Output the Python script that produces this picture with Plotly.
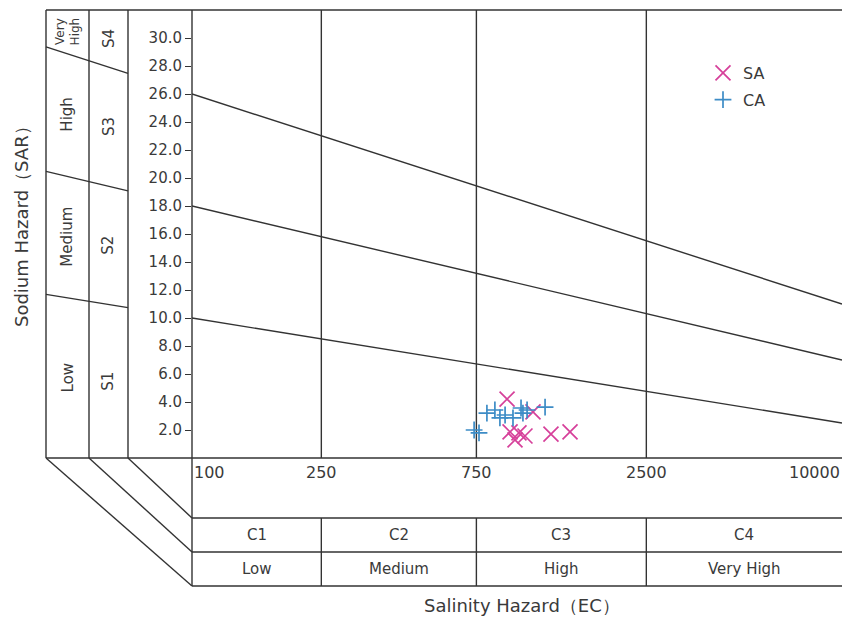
import math
import plotly.graph_objects as go

# ---------------- data ----------------
SA_EC = [932, 1120, 952, 986, 1014, 1058, 1272, 1456]
SA_SAR = [4.21, 3.29, 1.86, 1.29, 1.79, 1.57, 1.71, 1.86]

CA_EC = [738, 764, 808, 855, 886, 919, 972, 1029, 1043, 1074, 1220]
CA_SAR = [2.0, 1.79, 3.21, 3.43, 2.86, 3.07, 2.86, 3.57, 3.21, 3.43, 3.64]

EC_BOUNDS = [100, 250, 750, 2500, 10000]
EC_TICK_LABELS = ["100", "250", "750", "2500", "10000"]

SAR_TICKS = [2, 4, 6, 8, 10, 12, 14, 16, 18, 20, 22, 24, 26, 28, 30]
SAR_TICK_LABELS = ["2.0", "4.0", "6.0", "8.0", "10.0", "12.0", "14.0", "16.0",
                   "18.0", "20.0", "22.0", "24.0", "26.0", "28.0", "30.0"]

SALINITY_CLASSES = ["C1", "C2", "C3", "C4"]
SALINITY_LEVELS = ["Low", "Medium", "High", "Very High"]
SODIUM_CLASSES = ["S1", "S2", "S3", "S4"]
SODIUM_LEVELS = ["Low", "Medium", "High", "Very<br>High"]

# SAR class boundaries: value at EC=100 and at EC=10000
SAR_BOUND_LEFT = [10, 18, 26]
SAR_BOUND_RIGHT = [2.5, 7, 11]

SAR_MAX = 32

# ---------------- layout geometry (page pixels) ----------------
W, H = 842, 617
PL, PR, PT, PB = 192, 842, 10, 458
COL_X = [46, 89, 128]          # left column edges
BAND_Y = [518, 552, 586]       # bottom band rows
LINE_COLOR = "#333333"
LW = 1.4
FONT = "DejaVu Sans"
TXT = "#3a3a3a"
SA_COLOR = "#d6409a"
CA_COLOR = "#3d8cc6"


def xp(px):
    return (px - PL) / (PR - PL)


def yp(py):
    return (PB - py) / (PB - PT)


def lx(v):
    return math.log10(v)


def bound_y_paper(i, xpaper):
    sar = SAR_BOUND_LEFT[i] + (SAR_BOUND_RIGHT[i] - SAR_BOUND_LEFT[i]) * xpaper
    return sar / SAR_MAX


fig = go.Figure()

fig.add_trace(go.Scatter(
    x=SA_EC, y=SA_SAR, mode="markers", name="SA", legendgroup="sa",
    marker=dict(symbol="x-thin", size=15, color=SA_COLOR,
                line=dict(width=1.7, color=SA_COLOR)),
))
fig.add_trace(go.Scatter(
    x=CA_EC, y=CA_SAR, mode="markers", name="CA", legendgroup="ca",
    marker=dict(symbol="cross-thin", size=12, color=CA_COLOR,
                line=dict(width=1.7, color=CA_COLOR)),
))

shapes = []
ln = dict(color=LINE_COLOR, width=LW)


def pline(x0, y0, x1, y1):
    shapes.append(dict(type="line", xref="paper", yref="paper",
                       x0=x0, y0=y0, x1=x1, y1=y1, line=ln, layer="below"))


# top and bottom frame lines
pline(xp(COL_X[0]), 1, 1, 1)
pline(xp(COL_X[0]), 0, 1, 0)
# left column verticals
for cx in COL_X:
    pline(xp(cx), 0, xp(cx), 1)
# axis vertical (extends into bottom bands)
pline(0, 1, 0, yp(BAND_Y[-1]))
# bottom band horizontals
for by in BAND_Y:
    pline(0, yp(by), 1, yp(by))
# diagonals linking columns to bands
for cx, by in zip(COL_X, BAND_Y[::-1]):
    pline(xp(cx), 0, 0, yp(by))

# vertical class boundaries (plot + bands)
for ec in EC_BOUNDS[1:-1]:
    shapes.append(dict(type="line", xref="x", yref="paper", x0=ec, x1=ec,
                       y0=1, y1=0, line=ln, layer="below"))
    shapes.append(dict(type="line", xref="x", yref="paper", x0=ec, x1=ec,
                       y0=yp(BAND_Y[0]), y1=yp(BAND_Y[-1]), line=ln, layer="below"))

# SAR boundary lines in plot and their extension across the left columns
for i in range(len(SAR_BOUND_LEFT)):
    shapes.append(dict(type="line", xref="x", yref="y",
                       x0=EC_BOUNDS[0], y0=SAR_BOUND_LEFT[i],
                       x1=EC_BOUNDS[-1], y1=SAR_BOUND_RIGHT[i],
                       line=ln, layer="below"))
    xa, xb = xp(COL_X[0]), xp(COL_X[-1])
    pline(xa, bound_y_paper(i, xa), xb, bound_y_paper(i, xb))

annotations = []


def ann(text, x, y, size=15, xref="paper", yref="paper", xanchor="center",
        yanchor="middle", angle=0, color=TXT):
    annotations.append(dict(text=text, x=x, y=y, xref=xref, yref=yref,
                            xanchor=xanchor, yanchor=yanchor, textangle=angle,
                            showarrow=False, font=dict(family=FONT, size=size, color=color)))


# x tick labels
for k, (ec, lab) in enumerate(zip(EC_BOUNDS, EC_TICK_LABELS)):
    anchor = "left" if k == 0 else ("right" if k == len(EC_BOUNDS) - 1 else "center")
    ann(lab, lx(ec), yp(472), xref="x", xanchor=anchor, size=16)

# bottom band labels
for k in range(4):
    cx = (lx(EC_BOUNDS[k]) + lx(EC_BOUNDS[k + 1])) / 2
    ann(SALINITY_CLASSES[k], cx, yp((BAND_Y[0] + BAND_Y[1]) / 2), xref="x")
    ann(SALINITY_LEVELS[k], cx, yp((BAND_Y[1] + BAND_Y[2]) / 2), xref="x")

# left column labels
for col, labels in ((0, SODIUM_LEVELS), (1, SODIUM_CLASSES)):
    cxp = xp((COL_X[col] + COL_X[col + 1]) / 2)
    edges = [0] + [bound_y_paper(i, cxp) for i in range(3)] + [1]
    for k, lab in enumerate(labels):
        size = 12 if "<br>" in lab else 15
        ann(lab, cxp, (edges[k] + edges[k + 1]) / 2, size=size, angle=-90)

# axis titles
ann("Salinity Hazard（EC）", xp(522), yp(605), size=18)
ann("Sodium Hazard（SAR）", xp(21), yp(222), size=18, angle=-90)

fig.update_layout(
    width=W, height=H, autosize=False,
    margin=dict(l=PL, r=W - PR, t=PT, b=H - PB, pad=0),
    paper_bgcolor="white", plot_bgcolor="white",
    font=dict(family=FONT, color=TXT),
    xaxis=dict(type="log", range=[lx(EC_BOUNDS[0]), lx(EC_BOUNDS[-1])],
               showgrid=False, zeroline=False, showticklabels=False, ticks="",
               showline=False),
    yaxis=dict(range=[0, SAR_MAX], tickvals=SAR_TICKS, ticktext=SAR_TICK_LABELS,
               ticks="outside", ticklen=6, tickwidth=LW, tickcolor=LINE_COLOR,
               showgrid=False, zeroline=False, showline=False,
               tickfont=dict(family=FONT, size=15, color=TXT)),
    legend=dict(x=xp(703), y=yp(56), xanchor="left", yanchor="top",
                bgcolor="rgba(0,0,0,0)", font=dict(family=FONT, size=16, color=TXT),
                tracegroupgap=3),
    shapes=shapes, annotations=annotations,
)

fig.write_html(
    "out.html",
    config={"displayModeBar": False},
    post_script="document.body.style.margin='0';document.body.style.overflow='hidden';",
)
